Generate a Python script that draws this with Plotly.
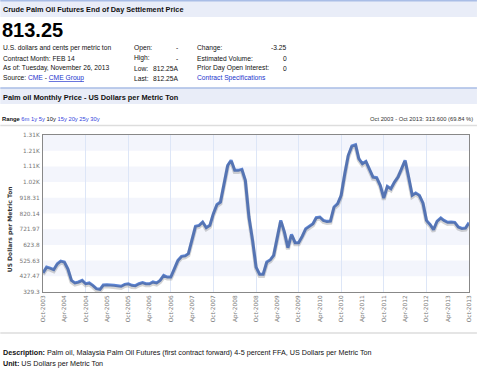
import pandas as pd
import plotly.graph_objects as go

# ---------------- data ----------------
start_month = "2003-10-01"
prices = [449, 485, 479, 469, 506, 523, 517, 475, 402, 386, 392, 402,
          381, 386, 371, 350, 346, 373, 375, 371, 371, 369, 365, 377,
          381, 371, 369, 381, 388, 381, 381, 392, 386, 402, 433, 423,
          423, 475, 527, 552, 556, 569, 652, 740, 746, 767, 732, 746,
          819, 877, 892, 1007, 1121, 1153, 1090, 1090, 1096, 1027, 798, 652,
          485, 440, 440, 517, 531, 559, 673, 777, 704, 606, 690, 638,
          638, 677, 725, 740, 756, 794, 798, 777, 771, 773, 861, 882,
          934, 1069, 1184, 1242, 1250, 1163, 1132, 1146, 1100, 1048, 1044, 996,
          917, 990, 975, 1017, 1048, 1100, 1153, 1048, 934, 948, 934, 886,
          777, 752, 719, 773, 792, 777, 765, 767, 765, 736, 727, 729,
          763]
months = pd.date_range(start_month, periods=len(prices), freq="MS")

y_tick_vals = [329.3, 427.47, 525.63, 623.8, 721.97, 820.14, 918.31,
               1016.48, 1114.65, 1212.82, 1311.0]
y_tick_text = ["329.3", "427.47", "525.63", "623.8", "721.97", "820.14",
               "918.31", "1.02K", "1.11K", "1.21K", "1.31K"]
x_tick_dates = pd.date_range(start_month, "2013-10-01", freq="6MS")
x_tick_text = [d.strftime("%b-%Y") for d in x_tick_dates]
x_grid_dates = pd.date_range(start_month, "2013-10-01", freq="12MS")

# ---------------- layout geometry ----------------
W, H = 480, 368
L, R, T, B = 43, 8, 135, 76
PW, PH = W - L - R, H - T - B


def fx(x):
    return (x - L) / PW


def fy(y):
    return (H - B - y) / PH


SANS = "Liberation Sans, Arial, sans-serif"
TICKF = "DejaVu Sans, Verdana, sans-serif"
LINK = "#2233cc"
BAR_FILL = "#e9edf8"
BAR_LINE = "#a9bde6"

fig = go.Figure()

# shadow
fig.add_trace(go.Scatter(x=months, y=prices, mode="lines", yaxis="y2",
                         line=dict(color="rgba(60,60,60,0.22)", width=4),
                         hoverinfo="skip", showlegend=False))
fig.add_trace(go.Scatter(x=months, y=prices, mode="lines",
                         line=dict(color="#5d85d5", width=3),
                         showlegend=False))

shapes = []
# alternating horizontal bands
for i in range(len(y_tick_vals) - 1):
    top_index = len(y_tick_vals) - 1 - i
    if i % 2 == 0:
        shapes.append(dict(type="rect", xref="paper", yref="y", x0=0, x1=1,
                           y0=y_tick_vals[top_index - 1], y1=y_tick_vals[top_index],
                           fillcolor="#f3f5fc", line=dict(width=0), layer="below"))

# header bars
shapes += [
    dict(type="rect", xref="paper", yref="paper", x0=fx(0), x1=fx(480), y0=fy(17), y1=fy(0.5),
         fillcolor=BAR_FILL, line=dict(width=0), layer="below"),
    dict(type="line", xref="paper", yref="paper", x0=fx(0), x1=fx(480), y0=fy(0.7), y1=fy(0.7),
         line=dict(color=BAR_LINE, width=1.4)),
    dict(type="rect", xref="paper", yref="paper", x0=fx(0), x1=fx(480), y0=fy(104), y1=fy(88),
         fillcolor=BAR_FILL, line=dict(width=0), layer="below"),
    dict(type="line", xref="paper", yref="paper", x0=fx(0), x1=fx(480), y0=fy(88), y1=fy(88),
         line=dict(color=BAR_LINE, width=1.4)),
    dict(type="line", xref="paper", yref="paper", x0=fx(0), x1=fx(480), y0=fy(125.5), y1=fy(125.5),
         line=dict(color="#dddddd", width=1.5)),
    dict(type="line", xref="paper", yref="paper", x0=fx(0), x1=fx(480), y0=fy(333), y1=fy(333),
         line=dict(color="#dddddd", width=1.5)),
]

annotations = []


def txt(x, y, text, size=6.7, color="#111", bold=False, xanchor="left", family=SANS, angle=0):
    if bold:
        text = "<b>" + text + "</b>"
    annotations.append(dict(x=fx(x), y=fy(y), xref="paper", yref="paper", text=text,
                            showarrow=False, xanchor=xanchor, yanchor="middle",
                            textangle=angle,
                            font=dict(size=size, color=color, family=family)))


txt(1, 9, "Crude Palm Oil Futures End of Day Settlement Price", size=7.3, bold=True)
txt(0, 30, "813.25", size=20, bold=True, color="#000")
rows = [48, 58, 68, 78]
txt(1, rows[0], "U.S. dollars and cents per metric ton")
txt(1, rows[1], "Contract Month: FEB 14")
txt(1, rows[2], "As of: Tuesday, November 26, 2013")
txt(1, rows[3], f"Source: <span style='color:{LINK}'>CME</span> - "
                f"<span style='color:{LINK}'><u>CME Group</u></span>")
txt(133, rows[0], "Open:")
txt(133, rows[1], "High:")
txt(133, rows[2], "Low:")
txt(133, rows[3], "Last:")
txt(181, rows[0], "-", xanchor="right")
txt(181, rows[1], "-", xanchor="right")
txt(181, rows[2], "812.25A", xanchor="right")
txt(181, rows[3], "812.25A", xanchor="right")
txt(196, rows[0], "Change:")
txt(196, rows[1], "Estimated Volume:")
txt(196, rows[2], "Prior Day Open Interest:")
txt(196, rows[3], "Contract Specifications", color=LINK)
txt(291, rows[0], "-3.25", xanchor="right")
txt(291, rows[1], "0", xanchor="right")
txt(291, rows[2], "0", xanchor="right")

txt(1, 97, "Palm oil Monthly Price - US Dollars per Metric Ton", size=7.4, bold=True)
txt(0, 119.5, "<b>Range</b> <span style='color:#3344dd'>6m 1y 5y</span> 10y "
              "<span style='color:#3344dd'>15y 20y 25y 30y</span>", size=5.8)
txt(478, 119.5, "Oct 2003 - Oct 2013: 313.600 (69.84 %)", size=5.8, color="#333",
    xanchor="right")
txt(10, 229, "US Dollars per Metric Ton", size=6, bold=True, color="#333", angle=-90,
    xanchor="center", family=TICKF)

txt(1, 352, "<b>Description:</b> Palm oil, Malaysia Palm Oil Futures (first contract forward) "
            "4-5 percent FFA, US Dollars per Metric Ton", size=7.2)
txt(1, 363, "<b>Unit:</b> US Dollars per Metric Ton", size=7.2)

y_lo, y_hi = y_tick_vals[0], y_tick_vals[-1]
shift = (y_hi - y_lo) / PH * 1.6

fig.update_layout(
    width=W, height=H,
    margin=dict(l=L, r=R, t=T, b=B, pad=0),
    paper_bgcolor="white", plot_bgcolor="white",
    shapes=shapes, annotations=annotations,
    showlegend=False,
    xaxis=dict(range=[months[0], months[-1]], tickmode="array",
               tickvals=list(x_tick_dates), ticktext=x_tick_text,
               tickangle=-90, showgrid=False, zeroline=False,
               tickfont=dict(size=5.8, color="#777", family=TICKF),
               showline=True, mirror=True, linecolor="#888", linewidth=1.2,
               ticks="", ticklen=0,
               minor=dict(tickmode="array", tickvals=list(x_grid_dates),
                          showgrid=True, gridcolor="#dde6f7", gridwidth=1, ticks="")),
    yaxis=dict(range=[y_lo, y_hi], tickmode="array", tickvals=y_tick_vals,
               ticktext=y_tick_text, showgrid=False, zeroline=False,
               tickfont=dict(size=5.8, color="#777", family=TICKF),
               showline=True, mirror=True, linecolor="#888", linewidth=1.2,
               ticks="outside", ticklen=1, tickcolor="rgba(0,0,0,0)"),
    yaxis2=dict(range=[y_lo + shift, y_hi + shift], overlaying="y", visible=False),
)

fig.write_html("out.html", config={"displayModeBar": False},
               post_script="document.body.style.margin='0';"
                           "document.body.style.overflow='hidden';")
